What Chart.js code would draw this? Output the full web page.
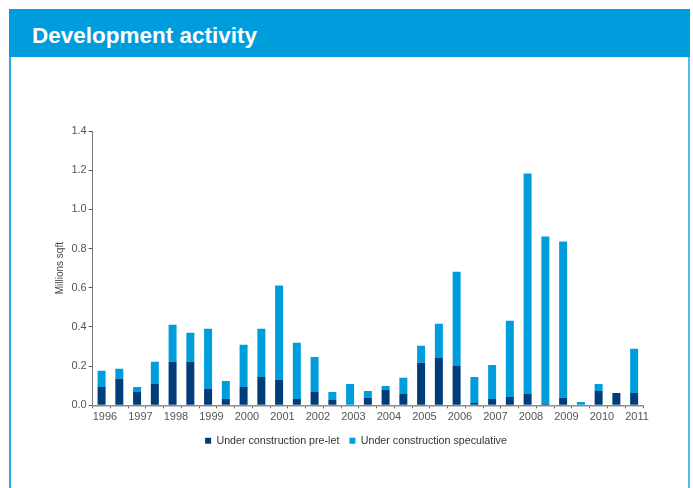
<!DOCTYPE html>
<html>
<head>
<meta charset="utf-8">
<script src="https://cdn.jsdelivr.net/npm/chart.js@4/dist/chart.umd.min.js"></script>
<style>
  html, body { margin: 0; padding: 0; background: #ffffff; }
  body { width: 693px; height: 488px; position: relative; overflow: hidden; font-family: "Liberation Sans", Arial, sans-serif; }
  #header { position: absolute; left: 9px; top: 9px; width: 681px; height: 48px; background: #009ddc; }
  #title { position: absolute; left: 32px; top: 23px; font-size: 22.5px; font-weight: bold; color: #ffffff; line-height: 25px; white-space: nowrap; }
  #lborder { position: absolute; left: 9px; top: 57px; width: 2px; height: 431px; background: #2fa9e3; }
  #rborder { position: absolute; left: 688px; top: 57px; width: 2px; height: 431px; background: #4fbdec; }
  #c { position: absolute; left: 0; top: 0; }
</style>
</head>
<body>
<div id="header"></div>
<div id="title">Development activity</div>
<div id="lborder"></div>
<div id="rborder"></div>
<canvas id="c" width="693" height="488"></canvas>
<script>
const categories = ['1996 H1','1996 H2','1997 H1','1997 H2','1998 H1','1998 H2','1999 H1','1999 H2',
  '2000 H1','2000 H2','2001 H1','2001 H2','2002 H1','2002 H2','2003 H1','2003 H2',
  '2004 H1','2004 H2','2005 H1','2005 H2','2006 H1','2006 H2','2007 H1','2007 H2',
  '2008 H1','2008 H2','2009 H1','2009 H2','2010 H1','2010 H2','2011 H1'];
const yearLabels = ['1996','1997','1998','1999','2000','2001','2002','2003',
  '2004','2005','2006','2007','2008','2009','2010','2011'];
const preLet = [0.094,0.136,0.068,0.109,0.222,0.222,0.084,0.032,
  0.094,0.145,0.130,0.032,0.068,0.027,0.000,0.038,
  0.078,0.058,0.217,0.242,0.201,0.012,0.032,0.043,
  0.058,0.007,0.038,0.000,0.073,0.063,0.063];
const speculative = [0.082,0.050,0.026,0.113,0.189,0.148,0.307,0.092,
  0.215,0.246,0.481,0.287,0.179,0.041,0.109,0.035,
  0.021,0.082,0.087,0.174,0.481,0.133,0.174,0.388,
  1.125,0.854,0.798,0.017,0.036,0.000,0.225];
const seriesNames = ['Under construction pre-let', 'Under construction speculative'];
const yTicks = [0, 0.2, 0.4, 0.6, 0.8, 1.0, 1.2, 1.4];

const tickFont = { family: '"Liberation Sans", Arial, sans-serif', size: 11 };

new Chart(document.getElementById('c'), {
  type: 'bar',
  data: {
    labels: categories,
    datasets: [
      { label: seriesNames[0], data: preLet, backgroundColor: '#003b7a', borderWidth: 0,
        barPercentage: 0.45, categoryPercentage: 1.0 },
      { label: seriesNames[1], data: speculative, backgroundColor: '#009ddc', borderWidth: 0,
        barPercentage: 0.45, categoryPercentage: 1.0 }
    ]
  },
  options: {
    responsive: false,
    animation: false,
    devicePixelRatio: 1,
    layout: { padding: { left: 69, right: 50, top: 131, bottom: 32 } },
    plugins: {
      tooltip: { enabled: false },
      legend: {
        position: 'bottom',
        fullSize: true,
        labels: {
          boxWidth: 6, boxHeight: 6, padding: 10,
          color: '#333333',
          font: { family: '"Liberation Sans", Arial, sans-serif', size: 10.7 }
        }
      }
    },
    scales: {
      x: {
        stacked: true,
        offset: true,
        afterFit: (s) => { s.height = 20; },
        border: { display: true, color: '#8c8c8c', width: 1.5 },
        grid: { display: true, offset: true, drawOnChartArea: false, drawTicks: true,
                tickLength: 3, color: '#555555', lineWidth: 1 },
        ticks: {
          autoSkip: false, maxRotation: 0, minRotation: 0,
          align: 'start', labelOffset: -8.9, padding: 2,
          color: '#555555', font: tickFont,
          callback: (v, i) => (i % 2 === 0 ? yearLabels[i / 2] : '')
        }
      },
      y: {
        stacked: true,
        min: 0, max: 1.4,
        afterFit: (s) => { s.width = 23.7; },
        afterBuildTicks: (s) => { s.ticks = yTicks.map(v => ({ value: v })); },
        border: { display: true, color: '#777777', width: 1 },
        grid: { display: true, drawOnChartArea: false, drawTicks: true, tickLength: 4, color: '#555555' },
        ticks: {
          padding: 2, color: '#555555', font: tickFont,
          callback: (v) => Number(v).toFixed(1)
        },
        title: {
          display: true, text: 'Millions sqft', color: '#444444',
          font: { family: '"Liberation Sans", Arial, sans-serif', size: 10 },
          padding: { top: -15, bottom: 4 }
        }
      }
    }
  }
});
</script>
</body>
</html>
